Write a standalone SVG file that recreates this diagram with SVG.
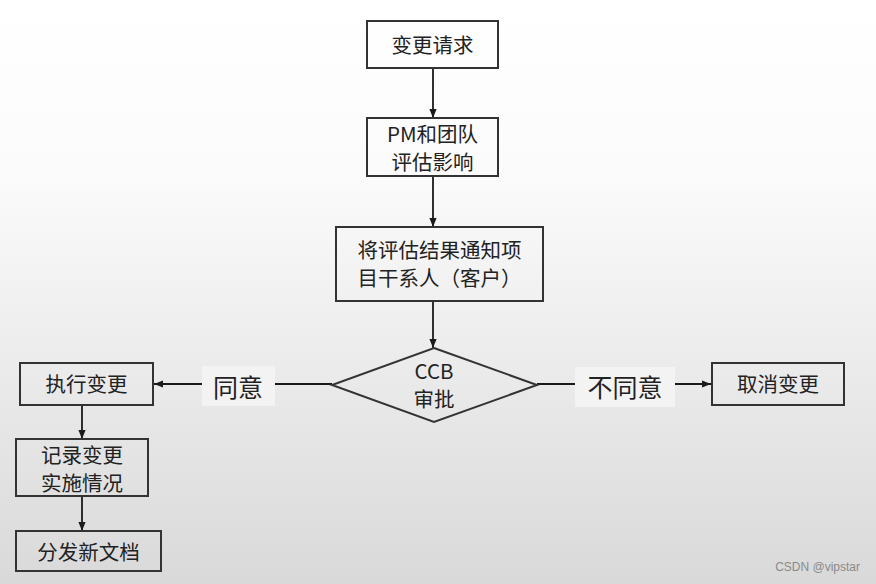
<svg xmlns="http://www.w3.org/2000/svg" width="876" height="584" viewBox="0 0 876 584">
<defs>
<linearGradient id="bg" x1="0" y1="0" x2="0" y2="1">
<stop offset="0" stop-color="#ffffff"/>
<stop offset="0.3" stop-color="#fbfbfb"/>
<stop offset="1" stop-color="#d9d9d9"/>
</linearGradient>
<marker id="arr" viewBox="0 0 10 10" refX="10" refY="5" markerWidth="5" markerHeight="5" orient="auto" markerUnits="strokeWidth">
<path d="M0,1 L10,5 L0,9 z" fill="#1a1a1a"/>
</marker>
<style>
.box{fill:none;stroke:#333;stroke-width:2}
.t{font-family:"Noto Sans CJK SC","Noto Sans",sans-serif;font-size:20.5px;fill:#222;text-anchor:middle;dominant-baseline:central}
.lbl{font-family:"Noto Sans CJK SC","Noto Sans",sans-serif;font-size:25px;fill:#222;text-anchor:middle;dominant-baseline:central}
.lb{fill:#f3f3f3}
.c{fill:none;stroke:#1a1a1a;stroke-width:1.8}
.wm{font-family:"Liberation Sans",Arial,sans-serif;font-size:12px;fill:#8a8a8a;text-anchor:end}
</style>
</defs>
<rect x="0" y="0" width="876" height="584" fill="url(#bg)"/>
<g id="connectors">
<line class="c" x1="433" y1="68" x2="433" y2="118" marker-end="url(#arr)"/>
<line class="c" x1="433" y1="176" x2="433" y2="227" marker-end="url(#arr)"/>
<line class="c" x1="433" y1="301" x2="433" y2="348" marker-end="url(#arr)"/>
<line class="c" x1="332" y1="384" x2="154" y2="384" marker-end="url(#arr)"/>
<line class="c" x1="537" y1="384" x2="711" y2="384" marker-end="url(#arr)"/>
<line class="c" x1="82" y1="405" x2="82" y2="439" marker-end="url(#arr)"/>
<line class="c" x1="82" y1="496" x2="82" y2="531" marker-end="url(#arr)"/>
<g id="label-agree">
<rect class="lb" x="202" y="366" width="73" height="40"/>
<text class="lbl" x="238" y="386">同意</text>
</g>
<g id="label-disagree">
<rect class="lb" x="575" y="367" width="100" height="40"/>
<text class="lbl" x="625" y="386">不同意</text>
</g>
</g>
<g id="n1">
<rect class="box" x="367" y="21" width="131" height="47"/>
<text class="t" x="432.5" y="44">变更请求</text>
</g>
<g id="n2">
<rect class="box" x="367" y="118" width="131" height="58"/>
<text class="t" x="432.5" y="133">PM和团队</text>
<text class="t" x="432.5" y="161">评估影响</text>
</g>
<g id="n3">
<rect class="box" x="336" y="227" width="207" height="74"/>
<text class="t" x="439.5" y="249">将评估结果通知项</text>
<text class="t" x="439.5" y="277">目干系人（客户）</text>
</g>
<g id="n4">
<polygon class="box" points="434,348 537,385 434,422 332,385"/>
<text class="t" x="434" y="370">CCB</text>
<text class="t" x="434" y="398">审批</text>
</g>
<g id="n5">
<rect class="box" x="20" y="363" width="133" height="42"/>
<text class="t" x="86.5" y="383">执行变更</text>
</g>
<g id="n6">
<rect class="box" x="16" y="439" width="132" height="57"/>
<text class="t" x="82" y="454">记录变更</text>
<text class="t" x="82" y="482">实施情况</text>
</g>
<g id="n7">
<rect class="box" x="16" y="531" width="145" height="40"/>
<text class="t" x="88.5" y="551">分发新文档</text>
</g>
<g id="n8">
<rect class="box" x="712" y="363" width="132" height="42"/>
<text class="t" x="778" y="383">取消变更</text>
</g>
<text class="wm" x="860" y="571">CSDN @vipstar</text>
</svg>
